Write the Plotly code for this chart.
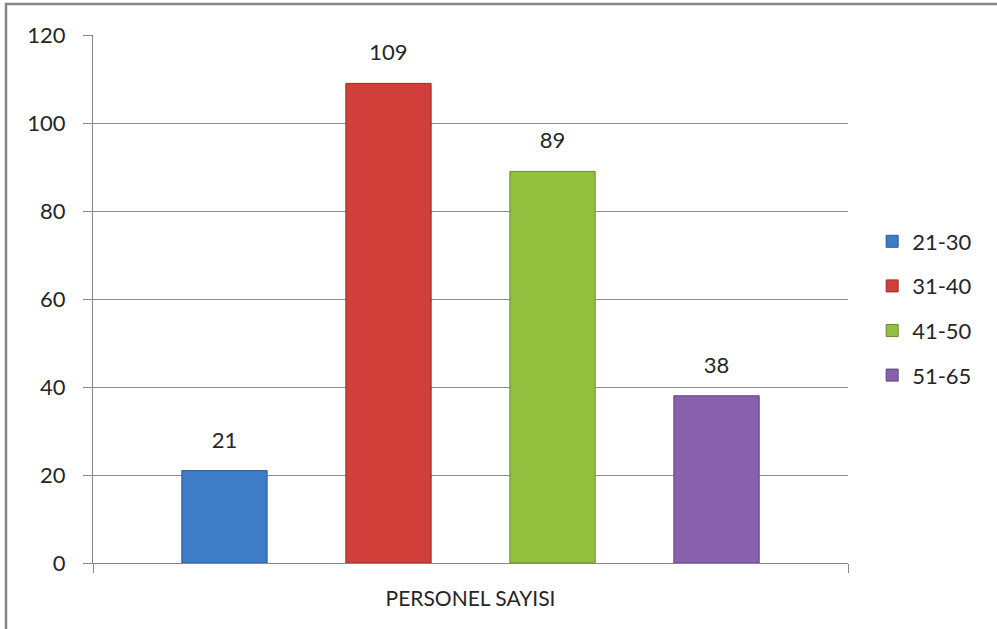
import plotly.graph_objects as go

category = ["PERSONEL SAYISI"]
series_names = ["21-30", "31-40", "41-50", "51-65"]
series_values = [21, 109, 89, 38]
colors = ["#3f7cc8", "#d13f3b", "#93bf3f", "#8760ae"]
outline = ["#2a5a96", "#9a2c29", "#6a8c2a", "#5f4280"]
y_ticks = [0, 20, 40, 60, 80, 100, 120]

FONT = "Lato, Open Sans, sans-serif"
TXT = "#262626"

fig = go.Figure()
for i, (name, val) in enumerate(zip(series_names, series_values)):
    fig.add_trace(go.Bar(
        x=category, y=[val], name=name,
        marker=dict(color=colors[i], line=dict(color=outline[i], width=1)),
        text=[f"<span style='font-size:22px'>{val}</span><br> "],
        textposition="outside",
        textfont=dict(size=13, color=TXT, family=FONT),
        cliponaxis=False, legendgroup=name,
    ))

fig.update_layout(
    width=997, height=629,
    margin=dict(l=93, r=149, t=35, b=66),
    paper_bgcolor="white", plot_bgcolor="white",
    barmode="group", bargap=0.131, bargroupgap=0.48,
    font=dict(family=FONT, size=22, color=TXT),
    showlegend=True,
    legend=dict(x=1.032, xanchor="left", xref="paper", y=0.482, yanchor="middle",
                font=dict(size=22, family=FONT, color=TXT),
                tracegroupgap=13, itemwidth=30, traceorder="grouped"),
    xaxis=dict(showgrid=False, showline=True, linecolor="#888888", linewidth=1,
               ticks="outside", tickson="boundaries", ticklen=9, tickcolor="#888888",
               tickfont=dict(size=21, family=FONT, color=TXT),
               ticklabelstandoff=17),
    yaxis=dict(range=[0, 120], tickvals=y_ticks, showgrid=True, gridcolor="#8c8c8c",
               gridwidth=1, showline=True, linecolor="#888888", linewidth=1,
               ticks="outside", ticklen=9, tickcolor="#888888",
               tickfont=dict(size=22, family=FONT, color=TXT),
               ticklabelstandoff=13, zeroline=False),
    shapes=[dict(type="rect", xref="paper", yref="paper",
                 x0=-87/755, x1=1.4, y0=-0.5, y1=(563-4)/528,
                 line=dict(color="#868686", width=2.5), fillcolor="rgba(0,0,0,0)", layer="below")],
)

fig.write_html("out.html", config={"displayModeBar": False},
               post_script="document.body.style.margin='0';")
